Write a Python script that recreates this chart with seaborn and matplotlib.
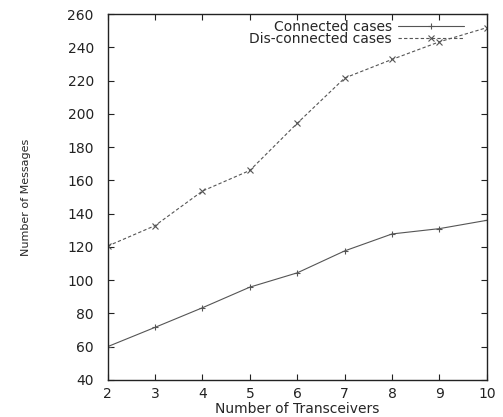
import matplotlib
matplotlib.use("Agg")
import matplotlib.pyplot as plt
import seaborn as sns
import pandas as pd

transceivers = [2, 3, 4, 5, 6, 7, 8, 9, 10]
connected = [60, 71.6, 83.4, 95.8, 104.4, 117.6, 127.8, 131, 136]
disconnected = [120.5, 132.8, 153.6, 166, 194.4, 221.6, 232.8, 243.4, 251.9]
series_names = ["Connected cases", "Dis-connected cases"]

rows = []
for name, vals in zip(series_names, [connected, disconnected]):
    for x, v in zip(transceivers, vals):
        rows.append({"Transceivers": x, "Messages": v, "Series": name})
df = pd.DataFrame(rows)

sns.set_style("ticks")
plt.rcParams["font.family"] = ["DejaVu Sans"]

fig = plt.figure(figsize=(5.03, 4.17), dpi=100)
ax = fig.add_axes([0.214, 0.089, 0.754, 0.877])

line_color = "#555555"
sns.lineplot(data=df, x="Transceivers", y="Messages", hue="Series", style="Series",
             palette=[line_color, line_color], markers=["+", "x"],
             dashes=[(None, None), (3, 2)], markersize=5, linewidth=0.8,
             markeredgewidth=0.8, markeredgecolor=line_color, ax=ax)

ax.set_xlim(2, 10)
ax.set_ylim(40, 260)
ax.set_xticks(transceivers)
ax.set_yticks(range(40, 261, 20))
ax.tick_params(direction="in", top=True, right=True, labelsize=10, length=4, width=0.8,
               colors="#222222")
ax.tick_params(axis="y", pad=10)
ax.tick_params(axis="x", pad=5)
for s in ax.spines.values():
    s.set_linewidth(1.0)
    s.set_color("#222222")

ax.set_xlabel("Number of Transceivers", fontsize=10, labelpad=1)
ax.set_ylabel("Number of Messages", fontsize=8, labelpad=26)

leg = ax.legend(loc="upper right", frameon=False, markerfirst=False, fontsize=10,
                numpoints=1, handlelength=4.8, borderaxespad=0.0, labelspacing=-0.1,
                handletextpad=0.4, bbox_to_anchor=(0.955, 1.0))
for h in leg.legend_handles:
    h.set_markeredgecolor(line_color)

fig.savefig("out.png", dpi=100)
